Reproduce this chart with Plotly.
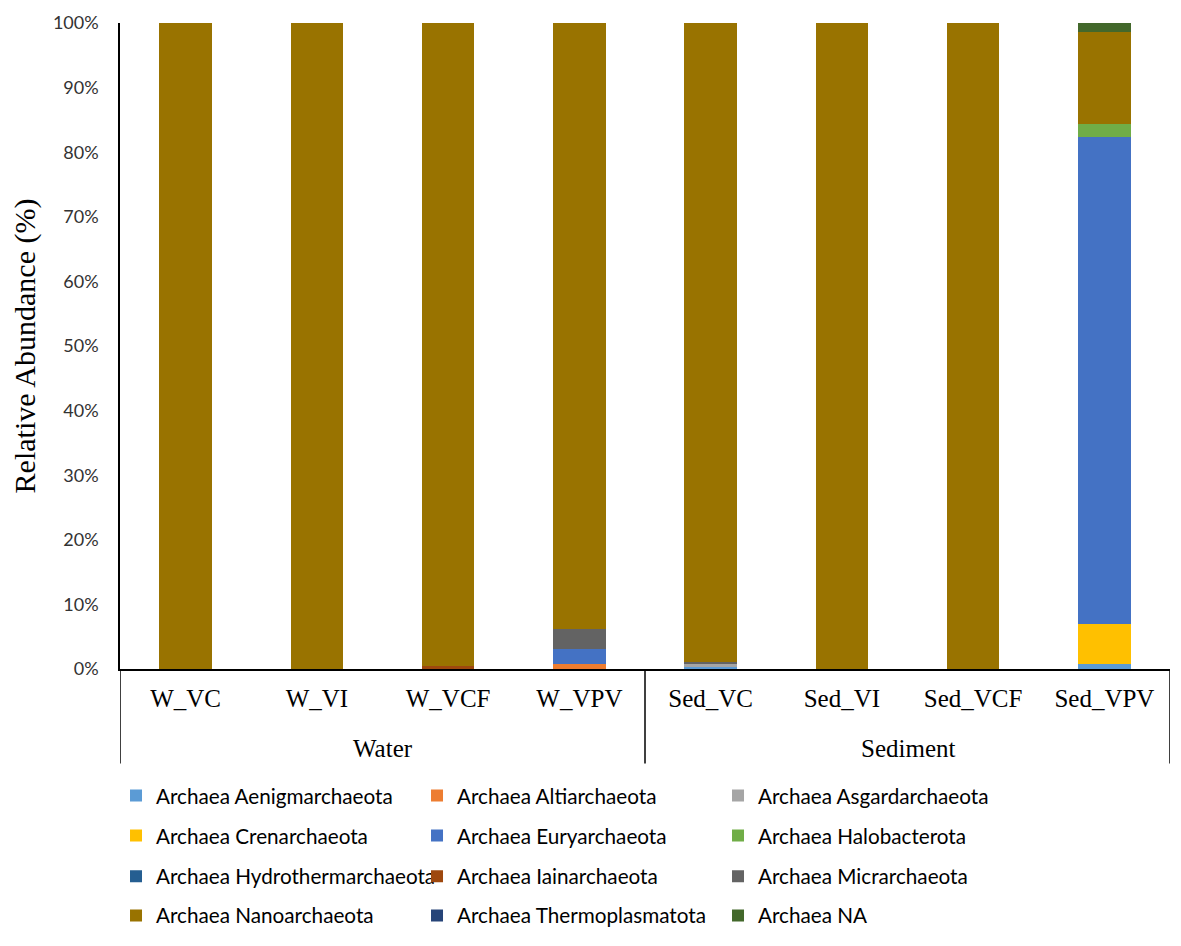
import plotly.graph_objects as go

samples = ["W_VC", "W_VI", "W_VCF", "W_VPV", "Sed_VC", "Sed_VI", "Sed_VCF", "Sed_VPV"]
groups = ["Water", "Sediment"]
group_members = [["W_VC", "W_VI", "W_VCF", "W_VPV"], ["Sed_VC", "Sed_VI", "Sed_VCF", "Sed_VPV"]]

# relative abundance (%) per phylum, in sample order
aenigmarchaeota = [0, 0, 0, 0, 0.3, 0, 0, 0.7]
altiarchaeota = [0, 0, 0, 0.8, 0, 0, 0, 0]
asgardarchaeota = [0, 0, 0, 0, 0.5, 0, 0, 0]
crenarchaeota = [0, 0, 0, 0, 0, 0, 0, 6.2]
euryarchaeota = [0, 0, 0, 2.3, 0, 0, 0, 75.5]
halobacterota = [0, 0, 0, 0, 0.1, 0, 0, 1.9]
hydrothermarchaeota = [0, 0, 0, 0, 0, 0, 0, 0]
iainarchaeota = [0, 0, 0.4, 0, 0, 0, 0, 0]
micrarchaeota = [0, 0, 0, 3.1, 0.2, 0, 0, 0]
nanoarchaeota = [100, 100, 99.6, 93.8, 98.9, 100, 100, 14.3]
thermoplasmatota = [0, 0, 0, 0, 0, 0, 0, 0]
archaea_na = [0, 0, 0, 0, 0, 0, 0, 1.4]

series = [
    ("Archaea Aenigmarchaeota", aenigmarchaeota, "#5B9BD5"),
    ("Archaea Altiarchaeota", altiarchaeota, "#ED7D31"),
    ("Archaea Asgardarchaeota", asgardarchaeota, "#A5A5A5"),
    ("Archaea Crenarchaeota", crenarchaeota, "#FFC000"),
    ("Archaea Euryarchaeota", euryarchaeota, "#4472C4"),
    ("Archaea Halobacterota", halobacterota, "#70AD47"),
    ("Archaea Hydrothermarchaeota", hydrothermarchaeota, "#255E91"),
    ("Archaea Iainarchaeota", iainarchaeota, "#9E480E"),
    ("Archaea Micrarchaeota", micrarchaeota, "#636363"),
    ("Archaea Nanoarchaeota", nanoarchaeota, "#997300"),
    ("Archaea Thermoplasmatota", thermoplasmatota, "#264478"),
    ("Archaea NA", archaea_na, "#43682B"),
]

legend_names = ["legend", "legend2", "legend3", "legend4"]

fig = go.Figure()
for i, (name, vals, color) in enumerate(series):
    fig.add_trace(go.Bar(
        x=samples, y=[v / 100 for v in vals], name=name,
        marker=dict(color=color, line=dict(width=0)),
        legend=legend_names[i // 3],
    ))

SERIF = "Liberation Serif, Times New Roman, serif"
SANS = "Lato, Open Sans, sans-serif"

legend_rows_y = [-0.196, -0.258, -0.321, -0.3815]
leg_common = dict(orientation="h", x=-0.0038, xanchor="left", yanchor="middle",
                  entrywidth=256, font=dict(family=SANS, size=20.7, color="#000"),
                  bgcolor="rgba(0,0,0,0)", traceorder="normal")
legends = {}
for ln, yy in zip(legend_names, legend_rows_y):
    legends[ln] = dict(leg_common, y=yy)

shapes = []
for xv in [-0.5, 3.5, 7.5]:
    shapes.append(dict(type="line", xref="x", yref="paper", x0=xv, x1=xv, y0=0, y1=-0.1464,
                       line=dict(color="#000", width=1.5)))

annotations = []
for g, members in zip(groups, group_members):
    idx = [samples.index(m) for m in members]
    annotations.append(dict(x=(idx[0] + idx[-1]) / 2, xref="x", y=-0.1225, yref="paper",
                            text=g, showarrow=False, yanchor="middle",
                            font=dict(family=SERIF, size=25, color="#000")))

# page body adds an 8px offset, so the figure is sized/margined to compensate
fig.update_layout(
    width=1173, height=938,
    margin=dict(l=112, r=11, t=15, b=271),
    barmode="stack", bargap=0.6,
    plot_bgcolor="white", paper_bgcolor="white",
    shapes=shapes, annotations=annotations,
    **legends,
)
fig.update_xaxes(type="category", range=[-0.5, 7.5], showline=True, linecolor="#000", linewidth=1.5,
                 ticks="", ticklabelstandoff=6, showgrid=False, automargin=False,
                 tickfont=dict(family=SERIF, size=25, color="#000"))
fig.update_yaxes(range=[0, 1], dtick=0.1, tickformat=".0%", showline=True, linecolor="#000",
                 linewidth=1.5, ticks="", showgrid=False, zeroline=False, ticklabelstandoff=16,
                 automargin=False,
                 tickfont=dict(family=SANS, size=18, color="#333"),
                 title=dict(text="Relative Abundance (%)", standoff=12,
                            font=dict(family=SERIF, size=30, color="#000")))

fig.write_html("out.html")
